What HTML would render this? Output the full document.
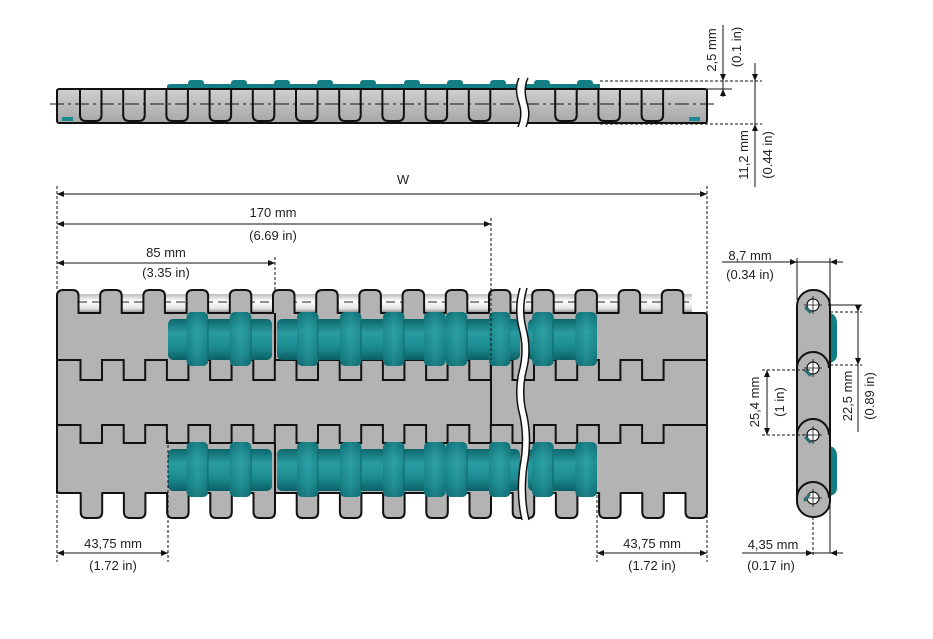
<!DOCTYPE html>
<html><head><meta charset="utf-8"><style>
html,body{margin:0;padding:0;background:#fff;}
svg{display:block;}
text{font-family:"Liberation Sans",sans-serif;font-size:13px;fill:#222;}
</style></head><body>
<svg width="933" height="639" viewBox="0 0 933 639" xmlns="http://www.w3.org/2000/svg">
<defs>
<linearGradient id="tg" x1="0" y1="0" x2="0" y2="1">
<stop offset="0" stop-color="#0c666c"/><stop offset="0.35" stop-color="#2a9da2"/><stop offset="0.7" stop-color="#1b8a90"/><stop offset="1" stop-color="#0b5f65"/></linearGradient>
<linearGradient id="tb" x1="0" y1="0" x2="1" y2="0">
<stop offset="0" stop-color="#10767c"/><stop offset="0.5" stop-color="#32a6aa"/><stop offset="1" stop-color="#10767c"/></linearGradient>
<linearGradient id="rod" x1="0" y1="0" x2="0" y2="1">
<stop offset="0" stop-color="#bdbdbd"/><stop offset="0.4" stop-color="#ffffff"/><stop offset="0.8" stop-color="#e4e4e4"/><stop offset="1" stop-color="#9a9a9a"/></linearGradient>
<linearGradient id="sv" x1="0" y1="0" x2="0" y2="1">
<stop offset="0" stop-color="#d0d0d0"/><stop offset="1" stop-color="#a6a6a6"/></linearGradient>
<path id="u" d="M0,89 V115 q0,6 6,6 h9.5 q6,0 6,-6 V89" fill="none" stroke="#111" stroke-width="2"/>
<g id="bumpT"><rect x="0" y="312" width="21.5" height="54" rx="5" fill="url(#tg)"/><rect x="0" y="312" width="21.5" height="54" rx="5" fill="url(#tb)" opacity="0.45"/></g>
<g id="bumpB"><rect x="0" y="442" width="21.5" height="55" rx="5" fill="url(#tg)"/><rect x="0" y="442" width="21.5" height="55" rx="5" fill="url(#tb)" opacity="0.45"/></g>
</defs>

<!-- ===== TOP VIEW STRIP ===== -->
<path d="M167,89 V86 q0,-2 4,-2 H600 V89 Z" fill="#137e84"/>
<g fill="#137e84">
<rect x="188" y="80" width="16" height="8" rx="3"/><rect x="231" y="80" width="16" height="8" rx="3"/>
<rect x="274" y="80" width="16" height="8" rx="3"/><rect x="317" y="80" width="16" height="8" rx="3"/>
<rect x="360" y="80" width="16" height="8" rx="3"/><rect x="404" y="80" width="16" height="8" rx="3"/>
<rect x="447" y="80" width="16" height="8" rx="3"/><rect x="490" y="80" width="16" height="8" rx="3"/>
<rect x="534" y="80" width="16" height="8" rx="3"/><rect x="577" y="80" width="16" height="8" rx="3"/>
</g>
<rect x="57" y="89" width="650" height="34" rx="2" fill="url(#sv)" stroke="#111" stroke-width="2"/>
<g>
<use href="#u" x="80"/><use href="#u" x="123.2"/><use href="#u" x="166.4"/><use href="#u" x="209.6"/><use href="#u" x="252.8"/>
<use href="#u" x="296"/><use href="#u" x="339.2"/><use href="#u" x="382.4"/><use href="#u" x="425.6"/><use href="#u" x="468.8"/>
<use href="#u" x="555.2"/><use href="#u" x="598.4"/><use href="#u" x="641.6"/>
</g>
<rect x="62" y="117" width="11" height="4" fill="#1a8a90"/>
<rect x="689" y="117" width="11" height="4" fill="#1a8a90"/>
<line x1="50" y1="104" x2="715" y2="104" stroke="#111" stroke-width="1" stroke-dasharray="14,4,3,4"/>
<path d="M519,78 q-5,10 0,25 q4,12 -1,24 L526,127 q5,-12 1,-24 q-4,-15 1,-25 Z" fill="#fff" stroke="none"/>
<path d="M519,78 q-5,10 0,25 q4,12 -1,24 M526,127 q5,-12 1,-24 q-4,-15 1,-25" fill="none" stroke="#111" stroke-width="1.5"/>

<!-- top view dims -->
<g stroke="#111" stroke-width="1" fill="none">
<line x1="600" y1="81" x2="762" y2="81" stroke-dasharray="3,2"/>
<line x1="600" y1="124" x2="762" y2="124" stroke-dasharray="3,2"/>
<line x1="707" y1="89" x2="732" y2="89"/>
<line x1="723" y1="25" x2="723" y2="97"/>
<line x1="755" y1="63" x2="755" y2="187"/>
</g>
<g fill="#111">
<path d="M723,81 l-3,-7 h6 z"/><path d="M723,89 l-3,7 h6 z"/>
<path d="M755,81 l-3,-7 h6 z"/><path d="M755,124 l-3,7 h6 z"/>
</g>
<text transform="translate(716,50) rotate(-90)" text-anchor="middle">2,5 mm</text>
<text transform="translate(741,47) rotate(-90)" text-anchor="middle">(0.1 in)</text>
<text transform="translate(748,155) rotate(-90)" text-anchor="middle">11,2 mm</text>
<text transform="translate(772,155) rotate(-90)" text-anchor="middle">(0.44 in)</text>

<!-- ===== MAIN BELT ===== -->
<!-- rods -->
<rect x="78" y="294" width="614" height="18" fill="url(#rod)"/>
<line x1="78" y1="302" x2="692" y2="302" stroke="#222" stroke-width="1" stroke-dasharray="9,5"/>
<!-- body with knuckles -->
<path fill="#b3b3b3" stroke="#111" stroke-width="2" stroke-linejoin="round" d="
M57,493 V313
v-17 q0,-6 6,-6 h9.5 q6,0 6,6 v17 h21.7
v-17 q0,-6 6,-6 h9.5 q6,0 6,6 v17 h21.7
v-17 q0,-6 6,-6 h9.5 q6,0 6,6 v17 h21.7
v-17 q0,-6 6,-6 h9.5 q6,0 6,6 v17 h21.7
v-17 q0,-6 6,-6 h9.5 q6,0 6,6 v17 h21.7
v-17 q0,-6 6,-6 h9.5 q6,0 6,6 v17 h21.7
v-17 q0,-6 6,-6 h9.5 q6,0 6,6 v17 h21.7
v-17 q0,-6 6,-6 h9.5 q6,0 6,6 v17 h21.7
v-17 q0,-6 6,-6 h9.5 q6,0 6,6 v17 h21.7
v-17 q0,-6 6,-6 h9.5 q6,0 6,6 v17 h21.7
v-17 q0,-6 6,-6 h9.5 q6,0 6,6 v17 h21.7
v-17 q0,-6 6,-6 h9.5 q6,0 6,6 v17 h21.7
v-17 q0,-6 6,-6 h9.5 q6,0 6,6 v17 h21.7
v-17 q0,-6 6,-6 h9.5 q6,0 6,6 v17 h21.7
v-17 q0,-6 6,-6 h9.5 q6,0 6,6 v17
H704 q3,0 3,3 V493
v19 q0,6 -6,6 h-9.5 q-6,0 -6,-6 v-19 h-21.7
v19 q0,6 -6,6 h-9.5 q-6,0 -6,-6 v-19 h-21.7
v19 q0,6 -6,6 h-9.5 q-6,0 -6,-6 v-19 h-21.7
v19 q0,6 -6,6 h-9.5 q-6,0 -6,-6 v-19 h-21.7
v19 q0,6 -6,6 h-9.5 q-6,0 -6,-6 v-19 h-21.7
v19 q0,6 -6,6 h-9.5 q-6,0 -6,-6 v-19 h-21.7
v19 q0,6 -6,6 h-9.5 q-6,0 -6,-6 v-19 h-21.7
v19 q0,6 -6,6 h-9.5 q-6,0 -6,-6 v-19 h-21.7
v19 q0,6 -6,6 h-9.5 q-6,0 -6,-6 v-19 h-21.7
v19 q0,6 -6,6 h-9.5 q-6,0 -6,-6 v-19 h-21.7
v19 q0,6 -6,6 h-9.5 q-6,0 -6,-6 v-19 h-21.7
v19 q0,6 -6,6 h-9.5 q-6,0 -6,-6 v-19 h-21.7
v19 q0,6 -6,6 h-9.5 q-6,0 -6,-6 v-19 h-21.7
v19 q0,6 -6,6 h-9.5 q-6,0 -6,-6 v-19 h-21.7
v19 q0,6 -6,6 h-9.5 q-6,0 -6,-6 v-19
H60 q-3,0 -3,-3 Z"/>
<!-- interior zigzags -->
<g fill="none" stroke="#111" stroke-width="2">
<path d="M57,360 h23.5
v20 h21.5 v-20 h21.7 v20 h21.5 v-20 h21.7 v20 h21.5 v-20 h21.7 v20 h21.5 v-20 h21.7 v20 h21.5 v-20 h21.7
v20 h21.5 v-20 h21.7 v20 h21.5 v-20 h21.7 v20 h21.5 v-20 h21.7 v20 h21.5 v-20 h21.7 v20 h21.5 v-20 h21.7
v20 h21.5 v-20 h21.7 v20 h21.5 v-20 h21.7 v20 h21.5 v-20 h21.7 v20 h21.5 v-20 H707"/>
<path d="M57,425 h23.5
v18 h21.5 v-18 h21.7 v18 h21.5 v-18 h21.7 v18 h21.5 v-18 h21.7 v18 h21.5 v-18 h21.7 v18 h21.5 v-18 h21.7
v18 h21.5 v-18 h21.7 v18 h21.5 v-18 h21.7 v18 h21.5 v-18 h21.7 v18 h21.5 v-18 h21.7 v18 h21.5 v-18 h21.7
v18 h21.5 v-18 h21.7 v18 h21.5 v-18 h21.7 v18 h21.5 v-18 h21.7 v18 h21.5 v-18 H707"/>
<line x1="275" y1="313" x2="275" y2="360"/>
<line x1="275" y1="443" x2="275" y2="493"/>
<line x1="491" y1="360" x2="491" y2="425"/>
</g>

<!-- teal rollers top row -->
<g>
<rect x="168" y="319" width="104" height="41" rx="5" fill="url(#tg)"/>
<rect x="277" y="319" width="243" height="41" rx="5" fill="url(#tg)"/>
<rect x="528" y="319" width="69" height="41" rx="5" fill="url(#tg)"/>
<use href="#bumpT" x="186.6"/><use href="#bumpT" x="229.8"/>
<use href="#bumpT" x="297"/><use href="#bumpT" x="340"/><use href="#bumpT" x="383"/><use href="#bumpT" x="424"/>
<use href="#bumpT" x="445.8"/><use href="#bumpT" x="489"/><use href="#bumpT" x="532.2"/><use href="#bumpT" x="575.4"/>
<rect x="168" y="449" width="104" height="42" rx="5" fill="url(#tg)"/>
<rect x="277" y="449" width="243" height="42" rx="5" fill="url(#tg)"/>
<rect x="528" y="449" width="69" height="42" rx="5" fill="url(#tg)"/>
<use href="#bumpB" x="186.6"/><use href="#bumpB" x="229.8"/>
<use href="#bumpB" x="297"/><use href="#bumpB" x="340"/><use href="#bumpB" x="383"/><use href="#bumpB" x="424"/>
<use href="#bumpB" x="445.8"/><use href="#bumpB" x="489"/><use href="#bumpB" x="532.2"/><use href="#bumpB" x="575.4"/>
</g>
<g stroke="#0a5a60" stroke-width="1" opacity="0.7">
<line x1="208" y1="320" x2="208" y2="358"/><line x1="251" y1="320" x2="251" y2="358"/>
<line x1="318" y1="320" x2="318" y2="358"/><line x1="361" y1="320" x2="361" y2="358"/><line x1="404" y1="320" x2="404" y2="358"/>
<line x1="467" y1="320" x2="467" y2="358"/><line x1="553" y1="320" x2="553" y2="358"/>
<line x1="208" y1="450" x2="208" y2="490"/><line x1="251" y1="450" x2="251" y2="490"/>
<line x1="318" y1="450" x2="318" y2="490"/><line x1="361" y1="450" x2="361" y2="490"/><line x1="404" y1="450" x2="404" y2="490"/>
<line x1="467" y1="450" x2="467" y2="490"/><line x1="553" y1="450" x2="553" y2="490"/>
</g>

<!-- break -->
<path d="M520,288 q-6,20 -1,40 q6,22 0,44 q-5,22 1,44 q5,24 0,50 q-4,30 2,54 L529,520 q-6,-24 -2,-54 q5,-26 0,-50 q-6,-22 -1,-44 q6,-22 0,-44 q-5,-20 1,-40 Z" fill="#fff"/>
<path d="M520,288 q-6,20 -1,40 q6,22 0,44 q-5,22 1,44 q5,24 0,50 q-4,30 2,54 M529,520 q-6,-24 -2,-54 q5,-26 0,-50 q-6,-22 -1,-44 q6,-22 0,-44 q-5,-20 1,-40" fill="none" stroke="#111" stroke-width="1.5"/>

<!-- main dims -->
<g stroke="#111" stroke-width="1" fill="none">
<line x1="57" y1="186" x2="57" y2="290" stroke-dasharray="3,2"/>
<line x1="707" y1="186" x2="707" y2="313" stroke-dasharray="3,2"/>
<line x1="491" y1="218" x2="491" y2="360" stroke-dasharray="3,2"/>
<line x1="275" y1="257" x2="275" y2="290" stroke-dasharray="3,2"/>
<line x1="57" y1="495" x2="57" y2="562" stroke-dasharray="3,2"/>
<line x1="168" y1="440" x2="168" y2="562" stroke-dasharray="3,2"/>
<line x1="597" y1="495" x2="597" y2="562" stroke-dasharray="3,2"/>
<line x1="707" y1="505" x2="707" y2="562" stroke-dasharray="3,2"/>
<line x1="57" y1="194" x2="707" y2="194"/>
<line x1="57" y1="224" x2="491" y2="224"/>
<line x1="57" y1="263" x2="275" y2="263"/>
<line x1="57" y1="553" x2="168" y2="553"/>
<line x1="597" y1="553" x2="707" y2="553"/>
</g>
<g fill="#111">
<path d="M57,194 l7,-3 v6z"/><path d="M707,194 l-7,-3 v6z"/>
<path d="M57,224 l7,-3 v6z"/><path d="M491,224 l-7,-3 v6z"/>
<path d="M57,263 l7,-3 v6z"/><path d="M275,263 l-7,-3 v6z"/>
<path d="M57,553 l7,-3 v6z"/><path d="M168,553 l-7,-3 v6z"/>
<path d="M597,553 l7,-3 v6z"/><path d="M707,553 l-7,-3 v6z"/>
</g>
<text x="403" y="184" text-anchor="middle">W</text>
<text x="273" y="217" text-anchor="middle">170 mm</text>
<text x="273" y="240" text-anchor="middle">(6.69 in)</text>
<text x="166" y="257" text-anchor="middle">85 mm</text>
<text x="166" y="277" text-anchor="middle">(3.35 in)</text>
<text x="113" y="548" text-anchor="middle">43,75 mm</text>
<text x="113" y="570" text-anchor="middle">(1.72 in)</text>
<text x="652" y="548" text-anchor="middle">43,75 mm</text>
<text x="652" y="570" text-anchor="middle">(1.72 in)</text>

<!-- ===== SIDE VIEW ===== -->
<path d="M830,313 q7,2 7,10 v32 q0,6 -7,8 Z" fill="#137e84"/>
<path d="M830,446 q7,2 7,10 v32 q0,6 -7,8 Z" fill="#137e84"/>
<rect x="797" y="290" width="33" height="227" rx="16" fill="#b3b3b3" stroke="#111" stroke-width="2"/>
<g fill="none" stroke="#111" stroke-width="2">
<path d="M797,368 a16,16 0 0 1 32,0"/>
<path d="M797,435 a16,16 0 0 1 32,0"/>
<path d="M797,498 a16,16 0 0 1 32,0"/>
</g>
<g fill="#fff" stroke="#111" stroke-width="1.2">
<circle cx="813" cy="305" r="6"/><circle cx="813" cy="368" r="6"/><circle cx="813" cy="435" r="6"/><circle cx="813" cy="498" r="6"/>
</g>
<g stroke="#111" stroke-width="0.8">
<line x1="804" y1="305" x2="822" y2="305"/><line x1="813" y1="296" x2="813" y2="314"/>
<line x1="804" y1="368" x2="822" y2="368"/><line x1="813" y1="359" x2="813" y2="377"/>
<line x1="804" y1="435" x2="822" y2="435"/><line x1="813" y1="426" x2="813" y2="444"/>
<line x1="804" y1="498" x2="822" y2="498"/><line x1="813" y1="489" x2="813" y2="507"/>
</g>
<g stroke="#2b6f75" stroke-width="3" stroke-linecap="round">
<line x1="806" y1="308" x2="810" y2="312"/><line x1="806" y1="371" x2="810" y2="375"/>
<line x1="806" y1="438" x2="810" y2="442"/><line x1="805" y1="500" x2="809" y2="495"/>
</g>
<!-- side dims -->
<g stroke="#111" stroke-width="1" fill="none">
<line x1="722" y1="262" x2="843" y2="262"/>
<line x1="797" y1="258" x2="797" y2="300"/>
<line x1="830" y1="258" x2="830" y2="553"/>
<line x1="742" y1="553" x2="843" y2="553"/>
<line x1="813" y1="517" x2="813" y2="557" stroke-dasharray="3,2"/>
<line x1="767" y1="370" x2="767" y2="435"/>
<line x1="762" y1="370" x2="813" y2="370" stroke-dasharray="3,2"/>
<line x1="762" y1="435" x2="813" y2="435" stroke-dasharray="3,2"/>
<line x1="858" y1="305" x2="858" y2="432"/>
<line x1="830" y1="312" x2="862" y2="312" stroke-dasharray="3,2"/>
<line x1="830" y1="365" x2="862" y2="365" stroke-dasharray="3,2"/>
<line x1="828" y1="305" x2="862" y2="305"/>
</g>
<g fill="#111">
<path d="M797,262 l-7,-3 v6z"/><path d="M830,262 l7,-3 v6z"/>
<path d="M813,553 l-7,-3 v6z"/><path d="M830,553 l7,-3 v6z"/>
<path d="M767,370 l-3,7 h6z"/><path d="M767,435 l-3,-7 h6z"/>
<path d="M858,312 l-3,-7 h6z"/><path d="M858,365 l-3,-7 h6z"/>
</g>
<text x="750" y="260" text-anchor="middle">8,7 mm</text>
<text x="750" y="279" text-anchor="middle">(0.34 in)</text>
<text x="773" y="549" text-anchor="middle">4,35 mm</text>
<text x="771" y="570" text-anchor="middle">(0.17 in)</text>
<text transform="translate(759,402) rotate(-90)" text-anchor="middle">25,4 mm</text>
<text transform="translate(784,402) rotate(-90)" text-anchor="middle">(1 in)</text>
<text transform="translate(852,396) rotate(-90)" text-anchor="middle">22,5 mm</text>
<text transform="translate(874,396) rotate(-90)" text-anchor="middle">(0.89 in)</text>
</svg>
</body></html>
